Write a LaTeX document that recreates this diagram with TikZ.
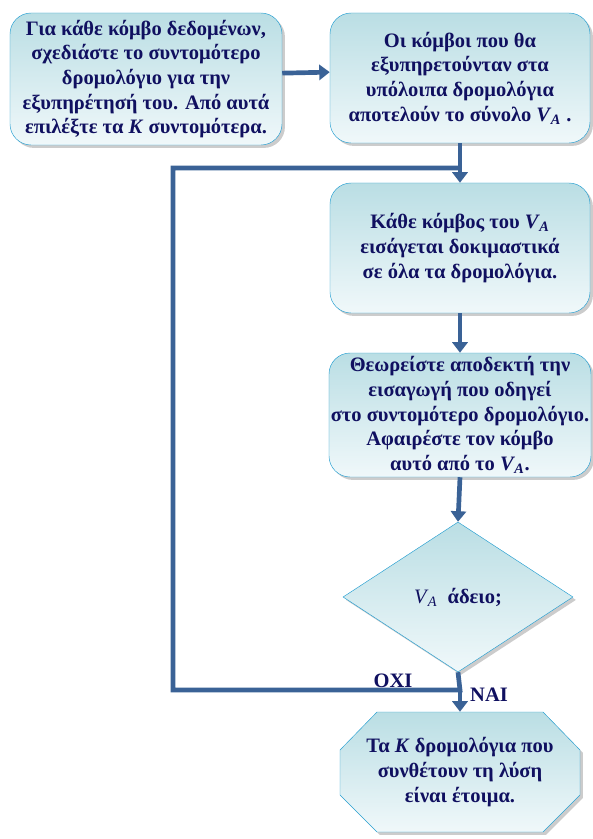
\documentclass[tikz,border=0pt]{standalone}
\usepackage{fontspec}
\setmainfont{Liberation Serif}
\usetikzlibrary{arrows.meta,shapes.geometric,shadows,positioning}

\definecolor{textnavy}{RGB}{16,16,96}
\definecolor{flowblue}{RGB}{58,98,150}
\definecolor{boxedge}{RGB}{40,160,210}
\definecolor{boxtop}{RGB}{186,222,228}
\definecolor{boxbottom}{RGB}{240,248,250}

\newcommand{\setVA}{\textit{V}\kern-0.5pt\textsubscript{\textit{A}}}

\begin{document}
\begin{tikzpicture}[
			x=0.03cm, y=-0.03cm,
			>={Triangle[width=13pt,length=9pt]},
			boxfill/.style={
				draw=boxedge, thin,
				top color=boxtop, bottom color=boxbottom,
				drop shadow={shadow xshift=2.5pt, shadow yshift=-2.5pt, fill=black!40}
			},
			boxtext/.style={
				text=textnavy, align=center, inner sep=1pt,
				font=\fontsize{17.5}{21}\selectfont\bfseries
			},
			stepbox/.style={boxfill, boxtext},
			roundbox/.style={stepbox, rounded corners=18pt,
				minimum width=7.8cm, minimum height=3.9cm},
			flow/.style={draw=flowblue, line width=4pt},
			label node/.style={text=textnavy, font=\fontsize{17.5}{20}\selectfont\bfseries}
			]
			\useasboundingbox (0,0) rectangle (593,839);
			
			\node[roundbox, minimum width=8.16cm, minimum height=3.96cm] (start) at (146,79)
				{Για κάθε κόμβο δεδομένων,\\ σχεδιάστε το συντομότερο\\ δρομολόγιο για την\\
				 εξυπηρέτησή του. Από αυτά\\ επιλέξτε τα \textit{K} συντομότερα.};
			\node[roundbox] (rest) at (460,78)
				{Οι κόμβοι που θα\\ εξυπηρετούνταν στα\\ υπόλοιπα δρομολόγια\\
				 αποτελούν το σύνολο \setVA\ .};
			\node[roundbox] (insert) at (460,248)
				{Κάθε κόμβος του \setVA\\ εισάγεται δοκιμαστικά\\ σε όλα τα δρομολόγια.};
			\node[roundbox, minimum width=7.86cm, minimum height=3.72cm] (accept) at (460,415)
				{Θεωρείστε αποδεκτή την\\ εισαγωγή που οδηγεί\\ στο συντομότερο δρομολόγιο.\\
				 Αφαιρέστε τον κόμβο\\ αυτό από το \setVA.};
			\node[stepbox, diamond, minimum width=6.9cm, minimum height=4.5cm] (empty) at (458,597)
				{{\mdseries\setVA}\ \ άδειο;};
			
			% octagon of the last step
			\path[boxfill] (377,712) -- (543,712) -- (580,750) -- (580,795)
				-- (543,832) -- (377,832) -- (340,795) -- (340,750) -- cycle;
			\node[boxtext, minimum width=7.2cm, minimum height=3.6cm] (done) at (460,772)
				{Τα \textit{K} δρομολόγια που\\ συνθέτουν τη λύση\\ είναι έτοιμα.};
			
			\coordinate (top join) at (460,168);
			\coordinate (bottom join) at (460,690);
			\coordinate (loop top) at (173,168);
			\coordinate (loop bottom) at (173,690);
			
			\draw[flow,->] ([yshift=5pt]start.east) -- ([yshift=5pt]rest.west);
			\draw[flow,->] (rest.south) -- (insert.north);
			\draw[flow,->] (insert.south) -- (accept.north);
			\draw[flow,->] (accept.south) -- (empty.north);
			\draw[flow] (empty.south) -- (bottom join) -- (loop bottom) -- (loop top) -- (top join);
			\draw[flow,->] (bottom join) -- (done.north);
			
			\node[label node] (no) at (393,681) {ΟΧΙ};
			\node[label node] (yes) at (489,695) {ΝΑΙ};
			
		\end{tikzpicture}
\end{document}
